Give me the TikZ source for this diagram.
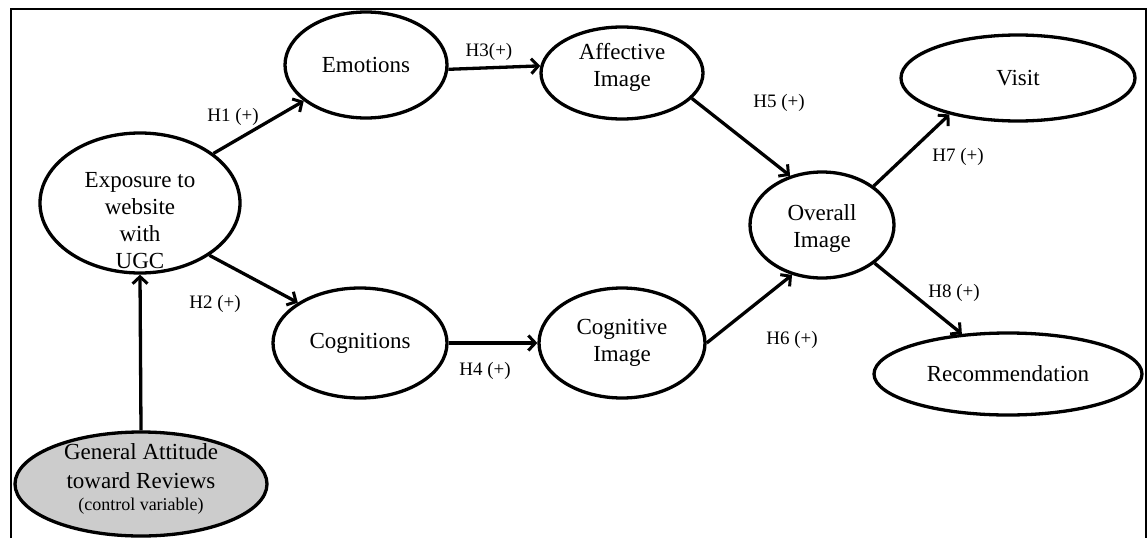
\documentclass[tikz,border=0pt]{standalone}
\usepackage{fontspec}
\setmainfont{Liberation Serif}
\usetikzlibrary{shapes.geometric,arrows.meta}
\begin{document}
\begin{tikzpicture}[x=1pt,y=-1pt,
  construct/.style={ellipse,draw=black,line width=3.3pt,inner sep=0pt,align=center,
    font=\fontsize{23}{27}\selectfont},
  caption/.style={inner sep=0pt,align=center,font=\fontsize{23}{27}\selectfont},
  link/.style={line width=3.3pt,-{Straight Barb[length=7pt,width=15pt,line width=3pt]}},
  hyp/.style={font=\fontsize{19}{21}\selectfont,inner sep=0pt}]
  \useasboundingbox (0,0) rectangle (1147,538);
  % open frame around the model
  \draw[line width=1.4pt] (11,538) -- (11,9) -- (1146,9) -- (1146,538);

  % constructs
  \node[construct,minimum width=200pt,minimum height=140pt] (exp) at (140,203) {};
  \node[caption] (exptext) at (140,221) {Exposure to\\website\\with\\UGC};
  \node[construct,minimum width=162pt,minimum height=106pt] (emo) at (366,65) {Emotions};
  \node[construct,minimum width=174pt,minimum height=110pt] (cgn) at (360,343) {Cognitions};
  \node[construct,minimum width=162pt,minimum height=92pt] (aff) at (622,73) {};
  \node[caption] (afftext) at (622,67) {Affective\\Image};
  \node[construct,minimum width=166pt,minimum height=110pt] (cgi) at (622,343) {Cognitive\\Image};
  \node[construct,minimum width=144pt,minimum height=106pt] (ovr) at (822,225) {};
  \node[caption] (ovrtext) at (822,228) {Overall\\Image};
  \node[construct,minimum width=234pt,minimum height=86pt] (vis) at (1018,78) {Visit};
  \node[construct,minimum width=268pt,minimum height=82pt] (rec) at (1008,374) {Recommendation};
  \node[construct,fill=black!20,minimum width=252pt,minimum height=104pt] (gen) at (141,484) {};
  \node[caption,font=\fontsize{23}{29}\selectfont] (gentext) at (141,479)
    {General Attitude\\toward Reviews\\[-7pt]{\fontsize{18}{20}\selectfont(control variable)}};

  % hypothesised paths
  \draw[link] (exp.34.6) -- (emo.-150);
  \draw[link] (exp.-37) -- (cgn.147);
  \draw[link] (emo.-3) -- (aff.175);
  \draw[link] (cgn.east) -- (cgi.west);
  \draw[link] (aff.-20) -- (ovr.123);
  \draw[link] (cgi.east) -- (ovr.-121);
  \draw[link] (ovr.37) -- (vis.-152.5);
  \draw[link] (ovr.-36.5) -- (rec.139);
  \draw[link] (gen.north) -- (exp.south);

  % path labels
  \node[hyp] (h1) at (233,117) {H1 (+)};
  \node[hyp] (h2) at (215,304) {H2 (+)};
  \node[hyp] (h3) at (489,52) {H3(+)};
  \node[hyp] (h4) at (485,371) {H4 (+)};
  \node[hyp] (h5) at (779,103) {H5 (+)};
  \node[hyp] (h6) at (792,340) {H6 (+)};
  \node[hyp] (h7) at (958,157) {H7 (+)};
  \node[hyp] (h8) at (954,293) {H8 (+)};
\end{tikzpicture}
\end{document}
